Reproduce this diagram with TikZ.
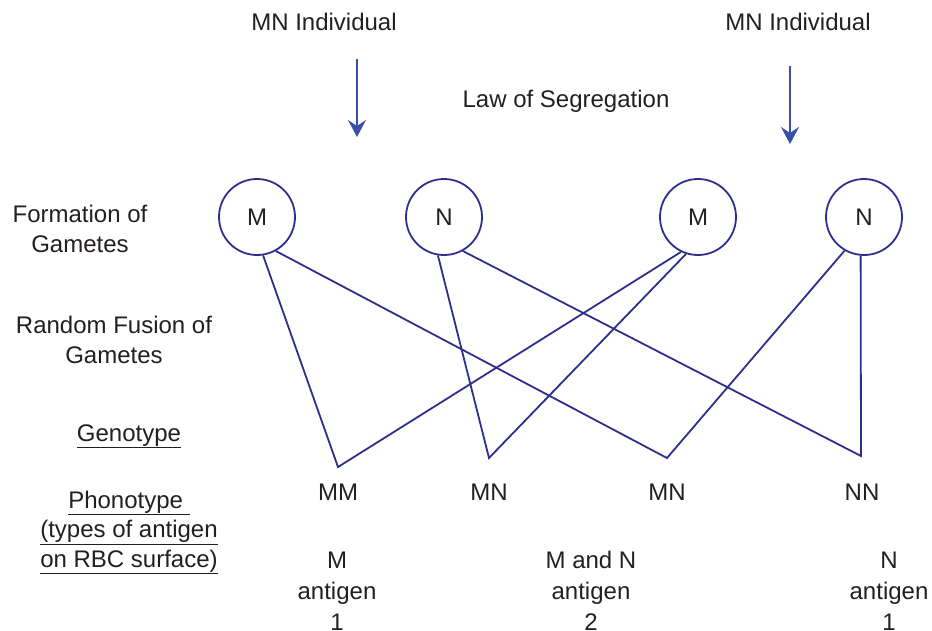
\documentclass[tikz,border=0pt]{standalone}
\usepackage{fontspec}
\setmainfont{Liberation Sans}
\usetikzlibrary{arrows.meta}
\definecolor{inktext}{RGB}{35,31,32}
\definecolor{linkblue}{RGB}{46,46,140}
\definecolor{arrowblue}{RGB}{58,80,162}
\begin{document}
\begin{tikzpicture}[x=1pt,y=-1pt,
  every node/.style={text=inktext,font=\fontsize{24}{29.5}\selectfont,inner sep=0pt},
  lbl/.style={anchor=base,align=center},
  loose/.style={font=\fontsize{24}{31}\selectfont},
  gamete/.style={circle,draw=linkblue,line width=1.8pt,minimum size=76pt,inner sep=0pt},
  link/.style={draw=linkblue,line width=1.8pt,line join=miter},
  down/.style={draw=arrowblue,line width=1.8pt,-{Stealth[length=17pt,width=18pt,inset=6pt]}}]
\useasboundingbox (0,0) rectangle (932,630);

% parents and the segregation of their alleles
\node[lbl] (p1) at (324,30) {MN Individual};
\node[lbl] (p2) at (798,30) {MN Individual};
\node[lbl] (law) at (566,107) {Law of Segregation};
\coordinate (a1s) at (357,59);
\coordinate (a1e) at (357,137);
\coordinate (a2s) at (790,66);
\coordinate (a2e) at (790,144);
\draw[down] (a1s) -- (a1e);
\draw[down] (a2s) -- (a2e);

% row labels (base anchor sits on the last line)
\node[lbl] (formation) at (80,252) {Formation of\\Gametes};
\node[lbl] (fusion) at (114,363) {Random Fusion of\\Gametes};
\node[lbl] (geno) at (129,441) {\underline{Genotype}};
\node[lbl] (pheno) at (129,567) {\underline{Phonotype\ }\\\underline{(types of antigen}\\\underline{on RBC surface)}};

% gametes
\node[gamete] (M1) at (257,217) {M};
\node[gamete] (N1) at (444,217) {N};
\node[gamete] (M2) at (698,217) {M};
\node[gamete] (N2) at (864,217) {N};

% fusion points
\coordinate (MMv) at (338,467);
\coordinate (MNav) at (489,458);
\coordinate (MNbv) at (667,458);
\coordinate (NNv) at (861,456);

\draw[link] (M1.-81) -- (MMv) -- (M2.-116);
\draw[link] (N1.-99) -- (MNav) -- (M2.-108);
\draw[link] (M1.-61) -- (MNbv) -- (N2.-120);
\draw[link] (N1.-61) -- (NNv) -- (N2.-95);

% genotypes
\node[lbl] (gMM) at (338,500) {MM};
\node[lbl] (gMNa) at (489,500) {MN};
\node[lbl] (gMNb) at (667,500) {MN};
\node[lbl] (gNN) at (862,500) {NN};

% phenotypes
\node[lbl,loose] (ph1) at (337,630) {M\\antigen\\1};
\node[lbl,loose] (ph2) at (591,630) {M and N\\antigen\\2};
\node[lbl,loose] (ph3) at (889,630) {N\\antigen\\1};
\end{tikzpicture}
\end{document}
